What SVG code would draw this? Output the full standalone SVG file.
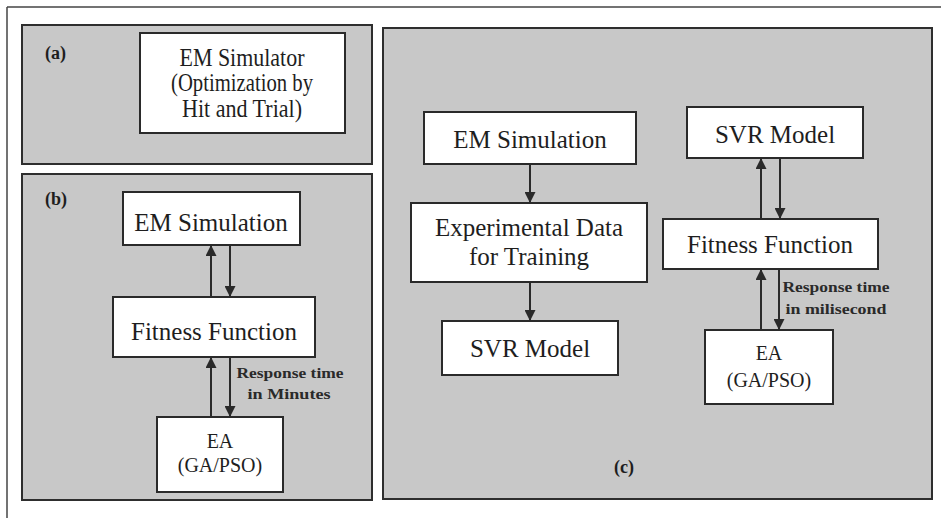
<svg xmlns="http://www.w3.org/2000/svg" width="941" height="518" viewBox="0 0 941 518">
<style>
.panel{fill:#c8c8c8;stroke:#2e2e2e;stroke-width:2}
.box{fill:#ffffff;stroke:#2a2a2a;stroke-width:2}
.t{font-family:"Liberation Serif","Times New Roman",serif;font-size:25px;fill:#1e1e1e;text-anchor:middle}
.s{font-family:"Liberation Serif","Times New Roman",serif;font-size:20px;fill:#1e1e1e;text-anchor:middle}
.lab{font-family:"Liberation Serif","Times New Roman",serif;font-size:18px;font-weight:bold;fill:#1e1e1e}
.note{font-family:"Liberation Serif","Times New Roman",serif;font-size:15px;font-weight:bold;fill:#2a2a2a;text-anchor:middle}
.c{stroke:#2a2a2a;stroke-width:2;fill:none;marker-end:url(#ah)}
</style>
<defs>
<marker id="ah" viewBox="0 0 10 10" refX="10" refY="5" markerWidth="11" markerHeight="11" markerUnits="userSpaceOnUse" orient="auto">
<path d="M0,0 L10,5 L0,10 z" fill="#2a2a2a"/>
</marker>
</defs>
<rect width="941" height="518" fill="#ffffff"/>
<g id="frame">
<line x1="7" y1="7" x2="941" y2="7" stroke="#444" stroke-width="1.5"/>
<line x1="7" y1="7" x2="7" y2="518" stroke="#444" stroke-width="1.5"/>
</g>
<g id="panel-a">
<rect class="panel" x="22" y="25" width="350" height="139"/>
<text class="lab" x="45" y="59">(a)</text>
</g>
<g id="panel-b">
<rect class="panel" x="22" y="174" width="350" height="326"/>
<text class="lab" x="45" y="205">(b)</text>
</g>
<g id="panel-c">
<rect class="panel" x="383" y="28" width="549" height="471"/>
<text class="lab" x="614" y="473">(c)</text>
</g>
<g id="a-em-simulator">
<rect class="box" x="140" y="33" width="205" height="100"/>
<text class="t" x="242" y="66" font-size="20" textLength="125" lengthAdjust="spacingAndGlyphs">EM Simulator</text>
<text class="t" x="242" y="91" font-size="19" textLength="142" lengthAdjust="spacingAndGlyphs">(Optimization by</text>
<text class="t" x="242" y="117" font-size="19" textLength="120" lengthAdjust="spacingAndGlyphs">Hit and Trial)</text>
</g>
<g id="b-em-simulation">
<rect class="box" x="123" y="192" width="177" height="53"/>
<text class="t" x="211" y="231">EM Simulation</text>
</g>
<g id="b-fitness">
<rect class="box" x="113" y="297" width="202" height="60"/>
<text class="t" x="214" y="340">Fitness Function</text>
</g>
<g id="b-ea">
<rect class="box" x="157" y="417" width="126" height="75"/>
<text class="s" x="220" y="448">EA</text>
<text class="s" x="220" y="472">(GA/PSO)</text>
</g>
<g id="c-em-simulation">
<rect class="box" x="424" y="112" width="212" height="52"/>
<text class="t" x="530" y="148">EM Simulation</text>
</g>
<g id="c-experimental">
<rect class="box" x="411" y="203" width="236" height="79"/>
<text class="t" x="529" y="236">Experimental Data</text>
<text class="t" x="529" y="265">for Training</text>
</g>
<g id="c-svr-left">
<rect class="box" x="442" y="321" width="176" height="54"/>
<text class="t" x="530" y="357">SVR Model</text>
</g>
<g id="c-svr-right">
<rect class="box" x="687" y="107" width="176" height="51"/>
<text class="t" x="775" y="143">SVR Model</text>
</g>
<g id="c-fitness">
<rect class="box" x="663" y="219" width="215" height="50"/>
<text class="t" x="770" y="253">Fitness Function</text>
</g>
<g id="c-ea">
<rect class="box" x="705" y="330" width="128" height="74"/>
<text class="s" x="769" y="360">EA</text>
<text class="s" x="769" y="387">(GA/PSO)</text>
</g>
<g id="connectors">
<line class="c" x1="211" y1="297" x2="211" y2="245"/>
<line class="c" x1="230" y1="245" x2="230" y2="297"/>
<line class="c" x1="211" y1="417" x2="211" y2="357"/>
<line class="c" x1="230" y1="357" x2="230" y2="417"/>
<line class="c" x1="530" y1="164" x2="530" y2="203"/>
<line class="c" x1="530" y1="282" x2="530" y2="321"/>
<line class="c" x1="761" y1="219" x2="761" y2="158"/>
<line class="c" x1="780" y1="158" x2="780" y2="219"/>
<line class="c" x1="761" y1="330" x2="761" y2="269"/>
<line class="c" x1="779" y1="269" x2="779" y2="330"/>
</g>
<g id="labels">
<text class="note" x="290" y="378" textLength="107" lengthAdjust="spacingAndGlyphs">Response time</text>
<text class="note" x="289" y="399" textLength="83" lengthAdjust="spacingAndGlyphs">in Minutes</text>
<text class="note" x="836" y="292" textLength="107" lengthAdjust="spacingAndGlyphs">Response time</text>
<text class="note" x="836" y="314" textLength="101" lengthAdjust="spacingAndGlyphs">in milisecond</text>
</g>
</svg>
